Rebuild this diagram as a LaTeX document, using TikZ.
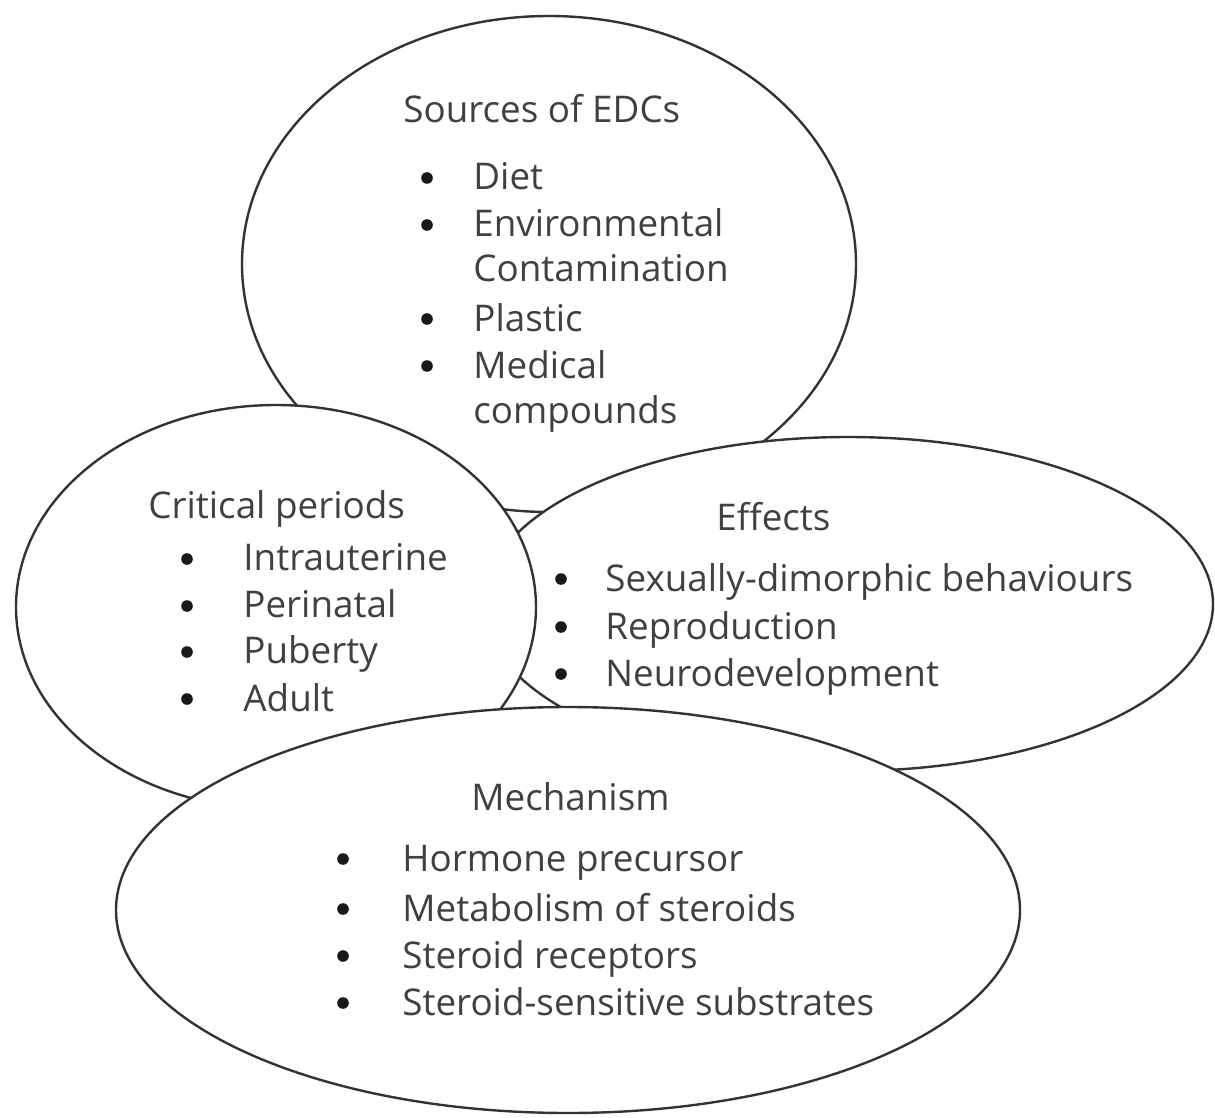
\documentclass[tikz,border=0pt]{standalone}
\usepackage{fontspec}
\setmainfont{Open Sans}
\usetikzlibrary{shapes.geometric}
\definecolor{ink}{HTML}{404040}
\definecolor{edge}{HTML}{333333}
\begin{document}
\begin{tikzpicture}[x=0.5pt,y=-0.5pt,
  blob/.style={ellipse,draw=edge,line width=1.2pt,fill=white,inner sep=0pt},
  txt/.style={anchor=base west,inner sep=0pt,text=ink,font=\fontsize{18.4}{22}\selectfont},
  bul/.style={circle,fill=black!90,inner sep=0pt,minimum size=5.8pt}]
\useasboundingbox (0,0) rectangle (1215,1118);
% ellipses, back to front
\node[blob,minimum width=307pt,minimum height=248pt] (src) at (549,264) {};
\node[blob,minimum width=365pt,minimum height=167pt] (eff) at (848,604) {};
\node[blob,minimum width=260pt,minimum height=202pt] (crit) at (276,607) {};
\node[blob,minimum width=452pt,minimum height=203pt] (mech) at (568,910) {};
% Sources
\node[txt] (srcT) at (403,123) {Sources of EDCs};
\node[bul] (sb1) at (427,178) {};
\node[txt] (s1) at (473,190) {Diet};
\node[bul] (sb2) at (427,225) {};
\node[txt] (s2) at (473,237) {Environmental};
\node[txt] (s3) at (473,282) {Contamination};
\node[bul] (sb3) at (427,319) {};
\node[txt] (s4) at (473,331) {Plastic};
\node[bul] (sb4) at (427,366) {};
\node[txt] (s5) at (473,378) {Medical};
\node[txt] (s6) at (473,423) {compounds};
% Critical periods
\node[txt] (critT) at (148,518) {Critical periods};
\node[bul] (cb1) at (187,559) {};
\node[txt] (c1) at (243,570) {Intrauterine};
\node[bul] (cb2) at (187,606) {};
\node[txt] (c2) at (243,617) {Perinatal};
\node[bul] (cb3) at (187,652) {};
\node[txt] (c3) at (243,663) {Puberty};
\node[bul] (cb4) at (187,699) {};
\node[txt] (c4) at (243,711) {Adult};
% Effects
\node[txt] (effT) at (716,530) {Effects};
\node[bul] (eb1) at (561,579) {};
\node[txt] (e1) at (605,591) {Sexually-dimorphic behaviours};
\node[bul] (eb2) at (561,627) {};
\node[txt] (e2) at (605,639) {Reproduction};
\node[bul] (eb3) at (561,674) {};
\node[txt] (e3) at (605,686) {Neurodevelopment};
% Mechanism
\node[txt] (mechT) at (471,810) {Mechanism};
\node[bul] (mb1) at (343,859) {};
\node[txt] (m1) at (402,871) {Hormone precursor};
\node[bul] (mb2) at (343,909) {};
\node[txt] (m2) at (402,921) {Metabolism of steroids};
\node[bul] (mb3) at (343,956) {};
\node[txt] (m3) at (402,968) {Steroid receptors};
\node[bul] (mb4) at (343,1003) {};
\node[txt] (m4) at (402,1015) {Steroid-sensitive substrates};
\end{tikzpicture}
\end{document}
